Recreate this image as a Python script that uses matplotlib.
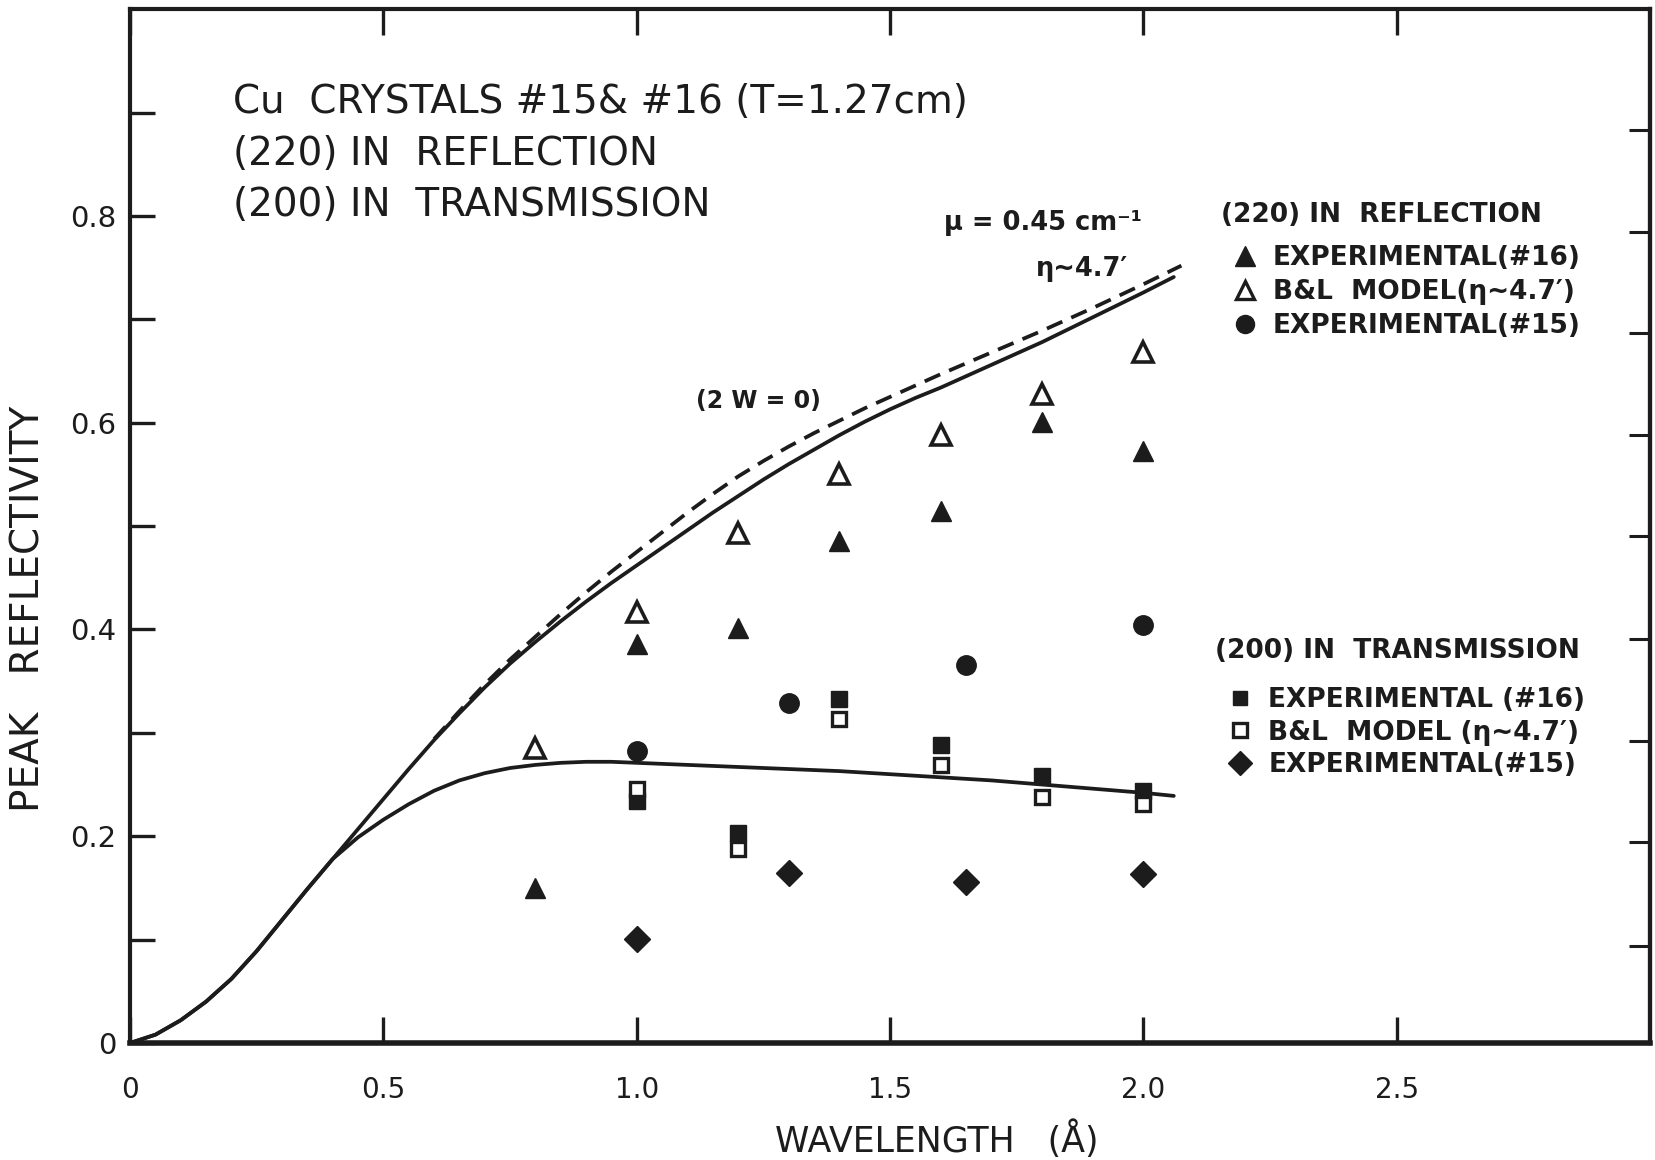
import matplotlib
matplotlib.use("Agg")
import matplotlib.pyplot as plt
from matplotlib.lines import Line2D

# Peak reflectivity vs wavelength, Cu crystals #15 and #16
INK = "#1c1c1c"

# theory curves (wavelength in Angstrom), eta ~ 4.7'
lam_refl = [0, 0.05, 0.1, 0.15, 0.2, 0.25, 0.3, 0.35, 0.4, 0.45, 0.5, 0.55,
            0.6, 0.65, 0.7, 0.75, 0.8, 0.85, 0.9, 0.95, 1.0, 1.05, 1.1, 1.15,
            1.2, 1.25, 1.3, 1.35, 1.4, 1.45, 1.5, 1.55, 1.6, 1.65, 1.7, 1.75,
            1.8, 1.85, 1.9, 1.95, 2.0, 2.06]
refl_220 = [0, 0.008, 0.022, 0.040, 0.062, 0.089, 0.119, 0.149, 0.178, 0.207,
            0.236, 0.265, 0.293, 0.319, 0.344, 0.367, 0.388, 0.408, 0.427,
            0.445, 0.462, 0.479, 0.496, 0.513, 0.529, 0.545, 0.560, 0.574,
            0.588, 0.601, 0.613, 0.624, 0.634, 0.645, 0.656, 0.667, 0.678,
            0.690, 0.702, 0.714, 0.726, 0.741]

lam_trans = [0, 0.05, 0.1, 0.15, 0.2, 0.25, 0.3, 0.35, 0.4, 0.45, 0.5, 0.55,
             0.6, 0.65, 0.7, 0.75, 0.8, 0.85, 0.9, 0.95, 1.0, 1.1, 1.2, 1.3,
             1.4, 1.5, 1.6, 1.7, 1.8, 1.9, 2.0, 2.06]
trans_200 = [0, 0.008, 0.022, 0.040, 0.062, 0.089, 0.119, 0.149, 0.178, 0.199,
             0.216, 0.231, 0.244, 0.254, 0.261, 0.266, 0.269, 0.271, 0.272,
             0.272, 0.271, 0.269, 0.267, 0.265, 0.263, 0.260, 0.257, 0.254,
             0.250, 0.246, 0.242, 0.239]

# (2W=0) curve, no Debye-Waller factor
lam_2w0 = [0.6, 0.65, 0.7, 0.75, 0.8, 0.85, 0.9, 0.95, 1.0, 1.05, 1.1, 1.15,
           1.2, 1.25, 1.3, 1.35, 1.4, 1.45, 1.5, 1.6, 1.7, 1.8, 1.9, 2.0, 2.075]
refl_2w0 = [0.294, 0.321, 0.347, 0.371, 0.393, 0.415, 0.436, 0.456, 0.475,
            0.494, 0.513, 0.531, 0.548, 0.563, 0.577, 0.590, 0.602, 0.614,
            0.625, 0.647, 0.668, 0.689, 0.711, 0.734, 0.752]

# (220) in reflection
lam_r16 = [0.8, 1.0, 1.2, 1.4, 1.6, 1.8, 2.0]
exp_r16 = [0.150, 0.386, 0.401, 0.486, 0.515, 0.601, 0.573]
lam_rbl = [0.8, 1.0, 1.2, 1.4, 1.6, 1.8, 2.0]
bl_r = [0.285, 0.417, 0.493, 0.550, 0.588, 0.628, 0.668]
lam_r15 = [1.0, 1.3, 1.65, 2.0]
exp_r15 = [0.282, 0.329, 0.366, 0.404]

# (200) in transmission
lam_t16 = [1.0, 1.2, 1.4, 1.6, 1.8, 2.0]
exp_t16 = [0.234, 0.203, 0.333, 0.288, 0.258, 0.244]
lam_tbl = [1.0, 1.2, 1.4, 1.6, 1.8, 2.0]
bl_t = [0.246, 0.188, 0.313, 0.269, 0.238, 0.231]
lam_t15 = [1.0, 1.3, 1.65, 2.0]
exp_t15 = [0.101, 0.164, 0.156, 0.163]

x_ticks = [0, 0.5, 1.0, 1.5, 2.0, 2.5]
x_tick_labels = ["0", "0.5", "1.0", "1.5", "2.0", "2.5"]
y_ticks = [0, 0.2, 0.4, 0.6, 0.8]
y_tick_labels = ["0", "0.2", "0.4", "0.6", "0.8"]
y_minor = [0.1, 0.3, 0.5, 0.7, 0.9]
right_ticks = [0.094, 0.194, 0.292, 0.391, 0.490, 0.588, 0.687, 0.785, 0.883]

plt.rcParams["font.family"] = ["DejaVu Sans"]

fig = plt.figure(figsize=(16.55, 11.6), dpi=100)
ax = fig.add_axes([0.0786, 0.1009, 0.9184, 0.8911])
ax.set_xlim(0, 3.0)
ax.set_ylim(0, 1.0)

line_kw = dict(color=INK, lw=2.7, solid_capstyle="round", solid_joinstyle="round")
ax.plot(lam_refl, refl_220, **line_kw)
ax.plot(lam_trans, trans_200, **line_kw)
ax.plot(lam_2w0, refl_2w0, color=INK, lw=2.7, dashes=(4.5, 2.6))

mk = dict(linestyle="none", color=INK, markeredgecolor=INK)
ax.plot(lam_r16, exp_r16, marker="^", ms=15, **mk)
ax.plot(lam_rbl, bl_r, marker="^", ms=14, markerfacecolor="white", markeredgewidth=2.6, **mk)
ax.plot(lam_r15, exp_r15, marker="o", ms=14, **mk)
ax.plot(lam_t16, exp_t16, marker="s", ms=11, **mk)
ax.plot(lam_tbl, bl_t, marker="s", ms=10, markerfacecolor="white", markeredgewidth=2.4, **mk)
ax.plot(lam_t15, exp_t15, marker="D", ms=13, **mk)

# frame and ticks
for side, sp in ax.spines.items():
    sp.set_linewidth(3.0)
    sp.set_color(INK)
ax.spines["bottom"].set_linewidth(4.0)

ax.set_xticks(x_ticks, x_tick_labels)
ax.set_yticks(y_ticks, y_tick_labels)
ax.set_yticks(y_minor, minor=True)
ax.tick_params(axis="x", which="major", direction="in", length=19, width=2.4,
               top=True, labeltop=False, pad=24, labelsize=20, colors=INK)
ax.tick_params(axis="y", which="both", direction="in", length=18, width=2.4,
               right=False, pad=10, labelsize=21, colors=INK)

sec = ax.secondary_yaxis("right")
sec.set_yticks(right_ticks, [""] * len(right_ticks))
sec.tick_params(direction="in", length=15, width=2.2, colors=INK)
sec.spines["right"].set_linewidth(3.0)
sec.spines["right"].set_color(INK)

ax.set_xlabel("WAVELENGTH   (Å)", fontsize=25, color=INK)
ax.xaxis.set_label_coords(0.531, -0.094)
ax.xaxis.label.set_va("center")
ax.set_ylabel("PEAK   REFLECTIVITY", fontsize=28, color=INK)
ax.yaxis.set_label_coords(-0.0668, 0.42)
ax.yaxis.label.set_va("center")

# heading block
title_lines = ["Cu  CRYSTALS #15& #16 (T=1.27cm)",
               "(220) IN  REFLECTION",
               "(200) IN  TRANSMISSION"]
for txt, yy in zip(title_lines, [0.910, 0.860, 0.811]):
    ax.text(0.0678, yy, txt, transform=ax.transAxes, fontsize=28,
            va="center", ha="left", color=INK)

# curve annotations
ax.text(1.606, 0.793, "μ = 0.45 cm⁻¹", fontsize=18.5, fontweight="bold",
        va="center", ha="left", color=INK)
ax.text(1.788, 0.7485, "η~4.7′", fontsize=18.5, fontweight="bold",
        va="center", ha="left", color=INK)
ax.text(1.116, 0.621, "(2 W = 0)", fontsize=17, fontweight="bold",
        va="center", ha="left", color=INK)

# legends
leg_kw = dict(frameon=False, loc="upper left", borderpad=0, handlelength=0.8,
              handletextpad=0.66, borderaxespad=0,
              prop={"size": 19, "weight": "bold"})

refl_handles = [
    Line2D([], [], marker="^", ms=14, **mk),
    Line2D([], [], marker="^", ms=13, markerfacecolor="white", markeredgewidth=2.4, **mk),
    Line2D([], [], marker="o", ms=13, **mk),
]
refl_labels = ["EXPERIMENTAL(#16)", "B&L  MODEL(η~4.7′)", "EXPERIMENTAL(#15)"]
ax.text(0.718, 0.801, "(220) IN  REFLECTION", transform=ax.transAxes, fontsize=19,
        fontweight="bold", va="center", ha="left", color=INK)
leg1 = ax.legend(refl_handles, refl_labels, bbox_to_anchor=(0.7266, 0.7716),
                 labelspacing=0.30, **leg_kw)
ax.add_artist(leg1)

trans_handles = [
    Line2D([], [], marker="s", ms=10, **mk),
    Line2D([], [], marker="s", ms=10, markerfacecolor="white", markeredgewidth=2.4, **mk),
    Line2D([], [], marker="D", ms=12, **mk),
]
trans_labels = ["EXPERIMENTAL (#16)", "B&L  MODEL (η~4.7′)", "EXPERIMENTAL(#15)"]
ax.text(0.7138, 0.379, "(200) IN  TRANSMISSION", transform=ax.transAxes, fontsize=19,
        fontweight="bold", va="center", ha="left", color=INK)
ax.legend(trans_handles, trans_labels, bbox_to_anchor=(0.7234, 0.344),
          labelspacing=0.24, **leg_kw)

for t in ax.get_legend().get_texts() + leg1.get_texts():
    t.set_color(INK)

fig.savefig("out.png", dpi=100, facecolor="white")
